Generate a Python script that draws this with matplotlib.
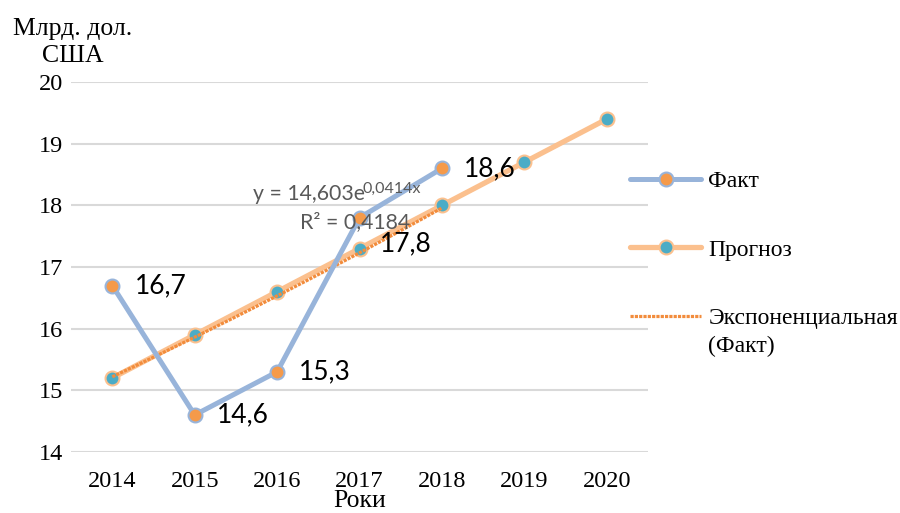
import numpy as np
import matplotlib
matplotlib.use("Agg")
import matplotlib.pyplot as plt

years = ["2014", "2015", "2016", "2017", "2018", "2019", "2020"]
fact = [16.7, 14.6, 15.3, 17.8, 18.6]
prognoz = [15.2, 15.9, 16.6, 17.3, 18.0, 18.7, 19.4]
fact_labels = ["16,7", "14,6", "15,3", "17,8", "18,6"]
yticks = [14, 15, 16, 17, 18, 19, 20]

serif = ["Liberation Serif", "DejaVu Serif"]
sans = ["Lato", "DejaVu Sans"]

fig = plt.figure(figsize=(9, 5.13), dpi=100)
ax = fig.add_axes([0.079, 0.119, 0.641, 0.721])

xf = np.arange(len(fact))
xp = np.arange(len(prognoz))

# exponential trend fitted to Fact (x = 1..n as in Excel)
xe = np.arange(1, len(fact) + 1)
b, lna = np.polyfit(xe, np.log(fact), 1)
a = np.exp(lna)
xs = np.linspace(1, len(fact), 100)
trend = a * np.exp(b * xs)

c_fact_line = "#98B4DA"
c_fact_mk = "#F59A4A"
c_prog_line = "#FBC08E"
c_prog_mk = "#4BACC6"
c_trend = "#F28C3C"

ax.plot(xf, fact, color=c_fact_line, lw=3.6, marker="o", ms=10,
        mfc=c_fact_mk, mec=c_fact_line, mew=1.5, zorder=3, label="Факт",
        solid_capstyle="round")
ax.plot(xp, prognoz, color=c_prog_line, lw=3.8, marker="o", ms=10,
        mfc=c_prog_mk, mec=c_prog_line, mew=1.5, zorder=2, label="Прогноз",
        solid_capstyle="round")
ax.plot(xs - 1, trend, color=c_trend, lw=2.3, ls=(0, (1, 0.35)), zorder=2.5,
        label="Экспоненциальная")

for i, (v, t) in enumerate(zip(fact, fact_labels)):
    if i == 3:
        ax.text(xf[i] + 0.25, v - 0.43, t, ha="left", va="center", fontsize=19,
                family=sans, color="black", zorder=7)
    else:
        ax.annotate(t, (xf[i], v), xytext=(16, 0), textcoords="offset points",
                    ha="left", va="center", fontsize=19, family=sans,
                    color="black", zorder=7)

t1 = ax.text(2.39, 18.19, "y = 14,603e", fontsize=15.3, family=sans,
             color="#595959", ha="center", va="center", zorder=6)
fig.canvas.draw()
bb = t1.get_window_extent()
xr, _ = ax.transData.inverted().transform((bb.x1, bb.y1))
ax.text(xr, 18.26, "0,0414x", fontsize=11.5, family=sans, color="#595959",
        ha="left", va="center", zorder=6)
ax.text(2.95, 17.73, "R² = 0,4184", fontsize=15.3, family=sans,
        color="#595959", ha="center", va="center", zorder=6)

ax.set_xlim(-0.5, len(years) - 0.5)
ax.set_ylim(14, 20)
ax.set_xticks(xp)
ax.set_xticklabels(years, family=serif, fontsize=17.5)
ax.set_yticks(yticks)
ax.set_yticklabels([str(t) for t in yticks], family=serif, fontsize=17.5)
ax.tick_params(length=0)
ax.tick_params(axis="x", pad=14)
ax.tick_params(axis="y", pad=6)
for s in ax.spines.values():
    s.set_visible(False)
ax.grid(axis="y", color="#D9D9D9", lw=1.5)
ax.set_axisbelow(True)

fig.text(0.081, 0.918, "Млрд. дол.\nСША", family=serif, fontsize=18.5,
         ha="center", va="center", linespacing=1.3)
ax.set_xlabel("Роки", family=serif, fontsize=18.5, labelpad=-1.5)

leg = ax.legend(loc="upper left", bbox_to_anchor=(0.953, 0.787), frameon=False,
                prop={"family": serif, "size": 17}, handlelength=3.0,
                handletextpad=0.3, labelspacing=2.0, borderaxespad=0)
fig.canvas.draw()
ltxt = leg.get_texts()[2]
lb = ltxt.get_window_extent()
fig.text(lb.x0 / fig.bbox.width, (lb.y0 - 17) / fig.bbox.height, "(Факт)",
         family=serif, fontsize=17, ha="left", va="center")

fig.savefig("out.png", dpi=100)
